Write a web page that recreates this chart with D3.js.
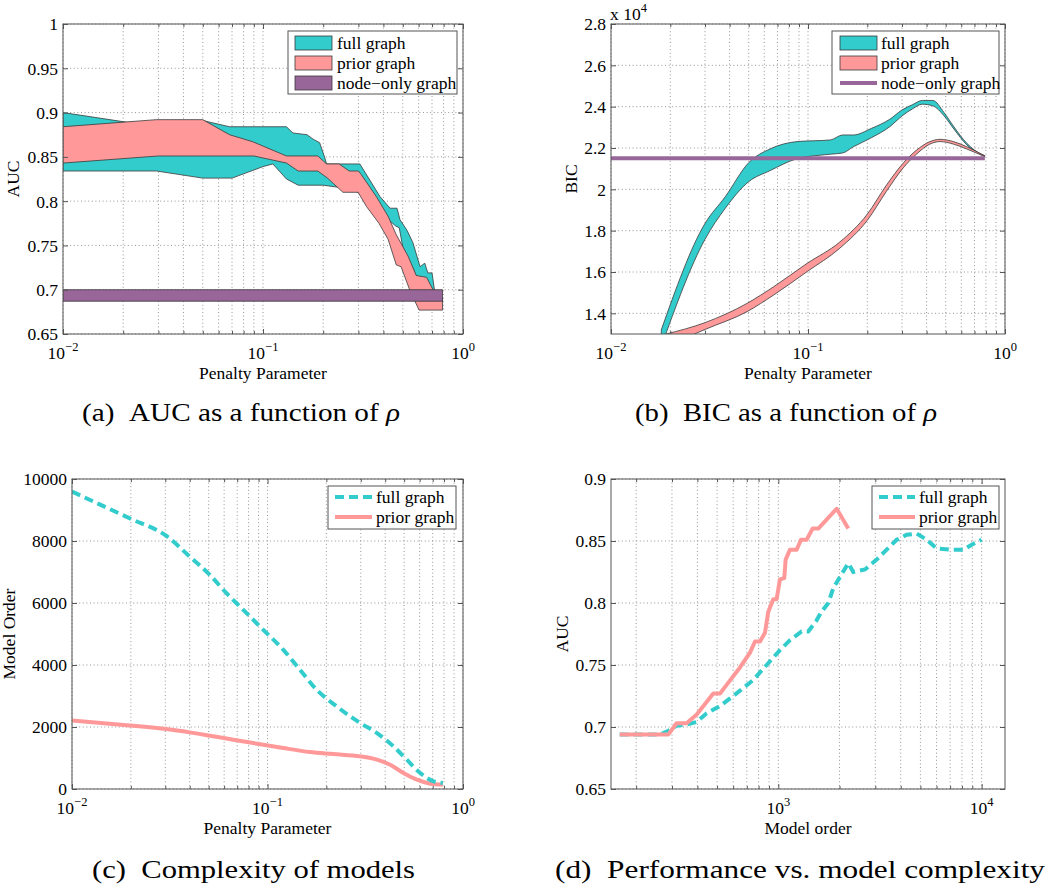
<!DOCTYPE html>
<html><head><meta charset="utf-8">
<script src="https://cdn.jsdelivr.net/npm/d3@7"></script>
<style>
body{margin:0;background:#fff}
svg{display:block}
svg text{font-family:"Liberation Serif","Times New Roman",Times,"DejaVu Serif",serif !important;fill:#000}
</style>
</head><body>
<svg id="c" width="1050" height="887" font-family="Liberation Serif, Times New Roman, serif"></svg>
<script>
// ---------------- DATA ----------------
// (a) AUC vs penalty parameter (bands)
const aucFullUpperRho = [0.01,0.021,0.03,0.05,0.068,0.131,0.141,0.166,0.178,0.192,0.203,0.208,0.305,0.385,0.432,0.468,0.484,0.525,0.562,0.61,0.644,0.667,0.70,0.72,0.79];
const aucFullUpper    = [0.900,0.889,0.889,0.891,0.884,0.884,0.877,0.875,0.870,0.866,0.850,0.842,0.842,0.805,0.792,0.792,0.779,0.767,0.753,0.726,0.730,0.719,0.719,0.700,0.690];
const aucFullLowerRho = [0.01,0.0294,0.05,0.07,0.1,0.112,0.131,0.15,0.2,0.25,0.3,0.37,0.42,0.46,0.48,0.5,0.55,0.6,0.65,0.79];
const aucFullLower    = [0.834,0.834,0.826,0.826,0.839,0.842,0.825,0.818,0.818,0.815,0.810,0.800,0.780,0.772,0.770,0.748,0.728,0.710,0.700,0.690];
const aucPriorUpperRho = [0.01,0.0293,0.05,0.068,0.089,0.131,0.188,0.208,0.24,0.27,0.3,0.31,0.369,0.422,0.464,0.531,0.584,0.658,0.708,0.79];
const aucPriorUpper    = [0.884,0.892,0.892,0.875,0.867,0.851,0.851,0.842,0.842,0.834,0.834,0.830,0.805,0.783,0.762,0.738,0.716,0.714,0.700,0.690];
const aucPriorLowerRho = [0.01,0.03,0.09,0.131,0.15,0.188,0.21,0.251,0.299,0.329,0.38,0.422,0.464,0.49,0.541,0.603,0.79];
const aucPriorLower    = [0.843,0.851,0.851,0.843,0.834,0.834,0.826,0.810,0.810,0.794,0.775,0.757,0.728,0.726,0.700,0.677,0.677];
const nodeRho = [0.01,0.79];
const nodeAucLow = 0.687, nodeAucHigh = 0.700;
const aucTicks = [0.65,0.7,0.75,0.8,0.85,0.9,0.95,1];

// (b) BIC (x 10^4) vs penalty parameter
const bicFullRho   = [0.018,0.03,0.038,0.05,0.064,0.088,0.13,0.15,0.17,0.21,0.26,0.3,0.34,0.38,0.43,0.49,0.55,0.64,0.7,0.79];
const bicFullUpper = [1.32,1.835,1.964,2.129,2.195,2.231,2.239,2.263,2.263,2.295,2.339,2.384,2.41,2.43,2.43,2.372,2.303,2.223,2.19,2.163];
const bicFullLower = [1.24,1.758,1.908,2.037,2.09,2.148,2.17,2.176,2.206,2.25,2.303,2.355,2.39,2.412,2.404,2.356,2.292,2.215,2.185,2.161];
const bicPriorRho   = [0.019,0.03,0.049,0.067,0.099,0.145,0.2,0.25,0.305,0.356,0.416,0.468,0.547,0.64,0.79];
const bicPriorUpper = [1.30,1.355,1.448,1.529,1.642,1.745,1.880,2.020,2.128,2.19,2.231,2.242,2.231,2.206,2.161];
const bicPriorLower = [1.24,1.322,1.408,1.489,1.602,1.715,1.850,1.990,2.105,2.171,2.219,2.231,2.219,2.195,2.158];
const bicNode = 2.15;
const bicTicks = [1.4,1.6,1.8,2,2.2,2.4,2.6,2.8];

// (c) model order vs penalty parameter
const orderFullRho = [0.01,0.0197,0.0304,0.040,0.0507,0.0617,0.0752,0.0952,0.1205,0.1466,0.1785,0.226,0.298,0.363,0.441,0.516,0.604,0.707,0.789];
const orderFull    = [9592,8732,8163,7497,6906,6316,5779,5134,4490,3845,3201,2664,2127,1805,1375,945,516,247,193];
const orderPriorRho = [0.01,0.0197,0.0304,0.040,0.0507,0.0668,0.0952,0.1205,0.165,0.217,0.298,0.363,0.424,0.496,0.581,0.68,0.789];
const orderPrior    = [2213,2052,1933,1826,1719,1590,1429,1321,1192,1128,1053,945,784,516,301,172,140];
const orderTicks = [0,2000,4000,6000,8000,10000];

// (d) AUC vs model order
const perfFullOrder = [166,262,288,316,354,397,444,517,601,754,876,1019,1141,1302,1404,1543,1633,1762,1865,2011,2208,2338,2669,3045,3412,3822,4279,4791,5364,6006,6985,8128,8935,10000];
const perfFullAuc   = [0.694,0.694,0.697,0.701,0.702,0.704,0.711,0.717,0.725,0.738,0.750,0.762,0.770,0.777,0.777,0.786,0.793,0.800,0.812,0.821,0.832,0.825,0.827,0.835,0.843,0.851,0.855,0.856,0.851,0.844,0.843,0.843,0.847,0.851];
const perfPriorOrder = [166,288,316,354,397,479,517,557,648,726,768,813,860,893,945,981,1019,1070,1087,1141,1231,1293,1378,1475,1573,1937,2208];
const perfPriorAuc   = [0.694,0.694,0.703,0.703,0.710,0.727,0.727,0.734,0.748,0.760,0.769,0.769,0.776,0.793,0.803,0.803,0.819,0.820,0.835,0.843,0.843,0.851,0.851,0.860,0.860,0.876,0.860];
const perfTicks = [0.65,0.7,0.75,0.8,0.85,0.9];

// ---------------- STYLE ----------------
const TEAL = "#33CCCC", SALMON = "#FF9999", PURPLE = "#996699";
const EDGE = "#3a3a3a";
const FS = 17.5;
const FONT = '"Liberation Serif","Times New Roman",Times,serif';
const svg = d3.select("#c");

function sup(sel, base, exp, supSize) {
  sel.append("tspan").text(base);
  sel.append("tspan").attr("font-size", supSize).attr("dy", -8).text(exp);
}

function panel(o) {
  const g = svg.append("g").attr("font-family", FONT);
  const x = d3.scaleLog().domain(o.xDomain).range([o.L, o.R]);
  const y = d3.scaleLinear().domain(o.yDomain).range([o.B, o.T]);
  const clipId = "clip_" + o.name;
  svg.append("clipPath").attr("id", clipId).append("rect")
    .attr("x", o.L).attr("y", o.T).attr("width", o.R - o.L).attr("height", o.B - o.T);

  const lo = Math.floor(Math.log10(o.xDomain[0])), hi = Math.ceil(Math.log10(o.xDomain[1]));
  const major = [], minor = [];
  for (let e = lo; e <= hi; e++) for (let k = 1; k < 10; k++) {
    const v = +(k * Math.pow(10, e)).toPrecision(6);
    if (v >= o.xDomain[0] * 0.999 && v <= o.xDomain[1] * 1.001) (k === 1 ? major : minor).push(v);
  }
  // grid
  const grid = g.append("g").attr("stroke", "#8a8a8a").attr("stroke-width", 0.9).attr("stroke-dasharray", "1,2.6");
  grid.selectAll("line.gx").data(major.concat(minor)).join("line")
    .attr("x1", d => x(d)).attr("x2", d => x(d)).attr("y1", o.T).attr("y2", o.B);
  grid.selectAll("line.gy").data(o.yTicks).join("line")
    .attr("y1", d => y(d)).attr("y2", d => y(d)).attr("x1", o.L).attr("x2", o.R);

  // data
  const dg = g.append("g").attr("clip-path", `url(#${clipId})`);
  o.draw(dg, x, y);

  // axes ticks (inward)
  const ax = (gen, tr) => g.append("g").attr("transform", tr).attr("color", "#555").call(gen)
    .call(s => s.select(".domain").remove());
  ax(d3.axisBottom(x).tickValues(major).tickSize(-5).tickFormat(""), `translate(0,${o.B})`);
  ax(d3.axisBottom(x).tickValues(minor).tickSize(-3).tickFormat(""), `translate(0,${o.B})`);
  ax(d3.axisTop(x).tickValues(major).tickSize(-5).tickFormat(""), `translate(0,${o.T})`);
  ax(d3.axisTop(x).tickValues(minor).tickSize(-3).tickFormat(""), `translate(0,${o.T})`);
  ax(d3.axisRight(y).tickValues(o.yTicks).tickSize(-5).tickFormat(""), `translate(${o.R},0)`);
  const yl = ax(d3.axisLeft(y).tickValues(o.yTicks).tickSize(-5).tickPadding(5).tickFormat(o.yFmt), `translate(${o.L},0)`);
  yl.attr("font-size", FS).attr("font-family", FONT);
  yl.selectAll("text").attr("fill", "#000").attr("dy", "0.34em").attr("font-family", FONT);

  // box
  g.append("rect").attr("x", o.L).attr("y", o.T).attr("width", o.R - o.L).attr("height", o.B - o.T)
    .attr("fill", "none").attr("stroke", "#555").attr("stroke-width", 1);

  // x tick labels 10^e
  const xl = g.append("g").attr("font-size", FS).attr("text-anchor", "middle");
  (o.xLabelTicks || major).forEach(v => {
    const e = Math.round(Math.log10(v));
    const t = xl.append("text").attr("x", x(v)).attr("y", o.B + 25).attr("font-family", FONT);
    sup(t, "10", (e < 0 ? "\u2212" + (-e) : "" + e), 12.5);
  });
  // axis titles
  g.append("text").attr("x", (o.L + o.R) / 2).attr("y", o.B + 45).attr("text-anchor", "middle")
    .attr("font-size", FS).attr("font-family", FONT).text(o.xTitle);
  g.append("text").attr("transform", `translate(${o.yTitleX},${(o.T + o.B) / 2}) rotate(-90)`)
    .attr("text-anchor", "middle").attr("font-size", FS).attr("font-family", FONT).text(o.yTitle);
  return {g, x, y};
}

function legend(box, rows) {
  const g = svg.append("g").attr("font-family", FONT);
  g.append("rect").attr("x", box.x).attr("y", box.y).attr("width", box.w).attr("height", box.h)
    .attr("fill", "#fff").attr("stroke", "#555").attr("stroke-width", 1);
  rows.forEach((r, i) => {
    const cy = box.y + box.first + i * box.step;
    if (r.type === "patch") {
      g.append("rect").attr("x", box.sx).attr("y", cy - 7).attr("width", box.sw).attr("height", 14)
        .attr("fill", r.color).attr("stroke", EDGE).attr("stroke-width", 0.8);
    } else {
      g.append("line").attr("x1", box.sx).attr("x2", box.sx + box.sw).attr("y1", cy).attr("y2", cy)
        .attr("stroke", r.color).attr("stroke-width", 4)
        .attr("stroke-dasharray", r.type === "dash" ? "9,5" : null);
    }
    g.append("text").attr("x", box.tx).attr("y", cy + 6).attr("font-size", FS).attr("font-family", FONT).text(r.label);
  });
}

function bandPath(x, y, upRho, up, lowRho, low) {
  const pts = upRho.map((r, i) => [r, up[i]]).concat(lowRho.map((r, i) => [r, low[i]]).reverse());
  return d3.line().x(d => x(d[0])).y(d => y(d[1]))(pts) + "Z";
}

const fmt2 = d => String(+d.toFixed(2));

// ---------------- (a) ----------------
panel({
  name: "a", L: 63, R: 463, T: 24, B: 334,
  xDomain: [0.01, 1], yDomain: [0.65, 1], yTicks: aucTicks, yFmt: fmt2,
  xTitle: "Penalty Parameter", yTitle: "AUC", yTitleX: 19,
  draw: (g, x, y) => {
    g.append("path").attr("d", bandPath(x, y, aucFullUpperRho, aucFullUpper, aucFullLowerRho, aucFullLower))
      .attr("fill", TEAL).attr("stroke", EDGE).attr("stroke-width", 0.8);
    g.append("path").attr("d", bandPath(x, y, aucPriorUpperRho, aucPriorUpper, aucPriorLowerRho, aucPriorLower))
      .attr("fill", SALMON).attr("stroke", EDGE).attr("stroke-width", 0.8);
    g.append("path").attr("d", bandPath(x, y, nodeRho, [nodeAucHigh, nodeAucHigh], nodeRho, [nodeAucLow, nodeAucLow]))
      .attr("fill", PURPLE).attr("stroke", EDGE).attr("stroke-width", 0.8);
  }
});
legend({x: 288, y: 31, w: 169, h: 63, first: 12, step: 20, sx: 295, sw: 37, tx: 337}, [
  {type: "patch", color: TEAL, label: "full graph"},
  {type: "patch", color: SALMON, label: "prior graph"},
  {type: "patch", color: PURPLE, label: "node\u2212only graph"}
]);

// ---------------- (b) ----------------
panel({
  name: "b", L: 611, R: 1005, T: 24, B: 334,
  xDomain: [0.01, 1], yDomain: [1.3, 2.8], yTicks: bicTicks, yFmt: fmt2,
  xTitle: "Penalty Parameter", yTitle: "BIC", yTitleX: 577,
  draw: (g, x, y) => {
    const area = d3.area().curve(d3.curveMonotoneX);
    const mk = (rho, lo, hi) => area.x((d, i) => x(rho[i])).y0((d, i) => y(lo[i])).y1((d, i) => y(hi[i]))(rho);
    g.append("path").attr("d", mk(bicFullRho, bicFullLower, bicFullUpper))
      .attr("fill", TEAL).attr("stroke", EDGE).attr("stroke-width", 0.8);
    g.append("path").attr("d", mk(bicPriorRho, bicPriorLower, bicPriorUpper))
      .attr("fill", SALMON).attr("stroke", EDGE).attr("stroke-width", 0.8);
    g.append("line").attr("x1", x(nodeRho[0])).attr("x2", x(nodeRho[1]))
      .attr("y1", y(bicNode)).attr("y2", y(bicNode)).attr("stroke", PURPLE).attr("stroke-width", 4);
  }
});
{
  const t = svg.append("text").attr("x", 610).attr("y", 20).attr("font-size", FS).attr("font-family", FONT);
  t.append("tspan").text("x 10");
  t.append("tspan").attr("font-size", 12.5).attr("dy", -8).text("4");
}
legend({x: 832, y: 31, w: 167, h: 63, first: 12, step: 20, sx: 840, sw: 37, tx: 881}, [
  {type: "patch", color: TEAL, label: "full graph"},
  {type: "patch", color: SALMON, label: "prior graph"},
  {type: "line", color: PURPLE, label: "node\u2212only graph"}
]);

// ---------------- (c) ----------------
panel({
  name: "c", L: 72, R: 463, T: 479, B: 789,
  xDomain: [0.01, 1], yDomain: [0, 10000], yTicks: orderTicks, yFmt: d => String(d),
  xTitle: "Penalty Parameter", yTitle: "Model Order", yTitleX: 15,
  draw: (g, x, y) => {
    const line = d3.line().curve(d3.curveMonotoneX);
    g.append("path").attr("d", line.x((d, i) => x(orderPriorRho[i])).y(d => y(d))(orderPrior))
      .attr("fill", "none").attr("stroke", SALMON).attr("stroke-width", 4);
    g.append("path").attr("d", line.x((d, i) => x(orderFullRho[i])).y(d => y(d))(orderFull))
      .attr("fill", "none").attr("stroke", TEAL).attr("stroke-width", 4).attr("stroke-dasharray", "9,5");
  }
});
legend({x: 328, y: 486, w: 128, h: 43, first: 11, step: 20, sx: 335, sw: 37, tx: 376}, [
  {type: "dash", color: TEAL, label: "full graph"},
  {type: "line", color: SALMON, label: "prior graph"}
]);

// ---------------- (d) ----------------
panel({
  name: "d", L: 611, R: 1005, T: 479, B: 789,
  xDomain: [150.4, 13030], yDomain: [0.65, 0.9], yTicks: perfTicks, yFmt: fmt2,
  xLabelTicks: [1000, 10000],
  xTitle: "Model order", yTitle: "AUC", yTitleX: 568,
  draw: (g, x, y) => {
    const line = d3.line();
    g.append("path").attr("d", line.x((d, i) => x(perfFullOrder[i])).y(d => y(d))(perfFullAuc))
      .attr("fill", "none").attr("stroke", TEAL).attr("stroke-width", 4).attr("stroke-dasharray", "9,5");
    g.append("path").attr("d", line.x((d, i) => x(perfPriorOrder[i])).y(d => y(d))(perfPriorAuc))
      .attr("fill", "none").attr("stroke", SALMON).attr("stroke-width", 4).attr("stroke-linejoin", "round");
  }
});
legend({x: 872, y: 486, w: 127, h: 43, first: 11, step: 20, sx: 879, sw: 36, tx: 919}, [
  {type: "dash", color: TEAL, label: "full graph"},
  {type: "line", color: SALMON, label: "prior graph"}
]);

// ---------------- captions ----------------
const captions = [
  {x: 82, y: 421, w: 318, t: "(a)\u2002AUC as a function of ", rho: true},
  {x: 635, y: 421, w: 302, t: "(b)\u2002BIC as a function of ", rho: true},
  {x: 92, y: 878, w: 323, t: "(c)\u2002Complexity of models", rho: false},
  {x: 555, y: 878, w: 490, t: "(d)\u2002Performance vs. model complexity", rho: false}
];
captions.forEach(c => {
  const t = svg.append("text").attr("x", c.x).attr("y", c.y).attr("font-size", 25)
    .attr("font-family", FONT)
    .attr("textLength", c.w).attr("lengthAdjust", "spacingAndGlyphs");
  t.append("tspan").text(c.t);
  if (c.rho) t.append("tspan").attr("font-style", "italic").text("\u03C1");
});
</script>
</body></html>
